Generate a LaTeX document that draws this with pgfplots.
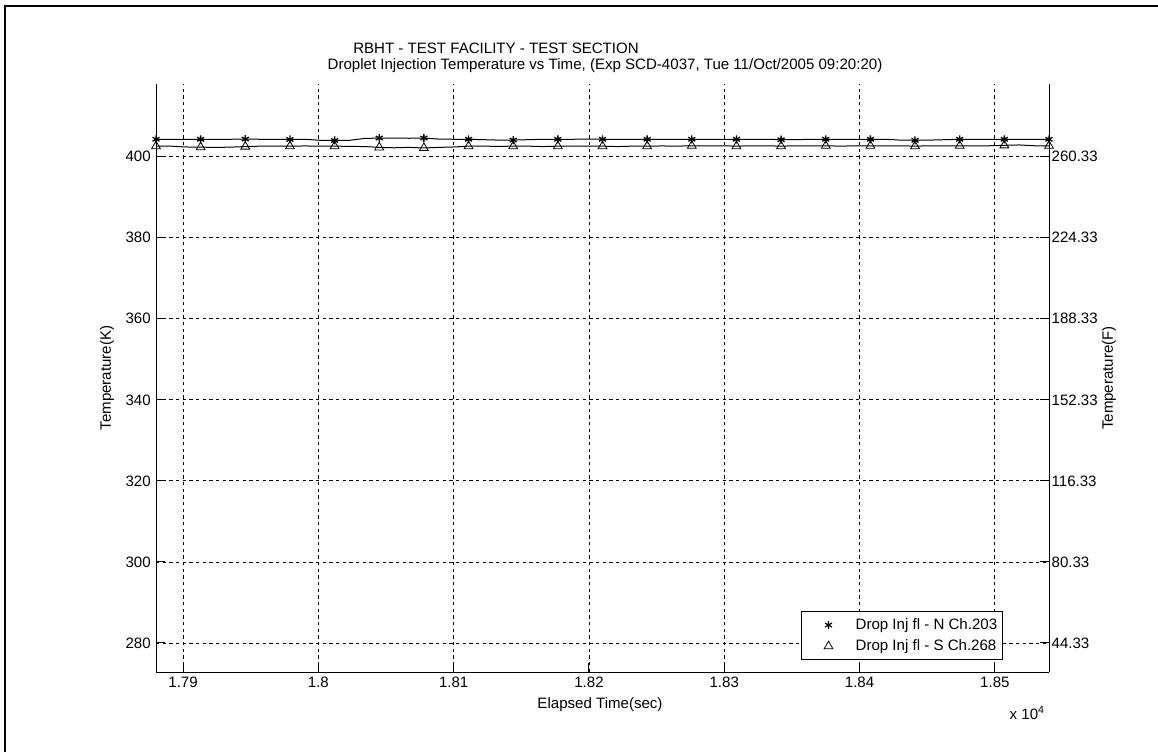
\documentclass[border=0pt]{standalone}
\usepackage{fontspec}
\setmainfont{Liberation Sans}
\usepackage{pgfplots}
\usepackage{pgfplotstable}
\pgfplotsset{compat=1.18}
\pgfplotsset{mylegimg/.style={legend image code/.code={\path (0cm,0cm) (1.25cm,0cm); \draw[##1] plot coordinates {(0.62cm,0cm)};}}}
\pgfplotstableread{
t n s
17880 404.30 402.60
17891 404.30 402.60
17902 404.25 402.40
17913 404.30 402.35
17924 404.30 402.30
17935 404.30 402.35
17946 404.35 402.50
17957 404.30 402.60
17968 404.30 402.60
17979 404.25 402.60
17990 404.30 402.65
18001 404.05 402.60
18012 404.00 402.60
18023 404.05 402.55
18034 404.50 402.50
18045 404.60 402.30
18056 404.60 402.20
18067 404.55 402.30
18078 404.60 402.15
18089 404.35 402.30
18100 404.30 402.40
18111 404.30 402.60
18122 404.20 402.60
18133 404.10 402.55
18144 404.10 402.60
18155 404.20 402.60
18166 404.30 402.50
18177 404.30 402.60
18188 404.30 402.60
18199 404.35 402.60
18210 404.30 402.60
18221 404.30 402.50
18232 404.25 402.60
18243 404.30 402.60
18254 404.30 402.65
18265 404.30 402.60
18276 404.30 402.70
18287 404.25 402.70
18298 404.30 402.70
18309 404.30 402.60
18320 404.30 402.70
18331 404.30 402.70
18342 404.20 402.60
18353 404.20 402.70
18364 404.30 402.70
18375 404.30 402.70
18386 404.30 402.60
18397 404.30 402.70
18408 404.30 402.70
18419 404.30 402.70
18430 404.10 402.70
18441 404.05 402.60
18452 404.10 402.70
18463 404.20 402.70
18474 404.30 402.70
18485 404.30 402.70
18496 404.30 402.70
18507 404.30 402.80
18518 404.30 402.90
18529 404.30 402.70
18540 404.30 402.70
}\datatable
\begin{document}
\fontsize{11.3}{13.5}\selectfont
\begin{tikzpicture}[x=0.75pt,y=0.75pt]
\path[use as bounding box] (0,0) rectangle (1158,751);
\draw[line width=1.6pt] (5,-2) -- (5,745) -- (1160,745);
\begin{axis}[
  at={(117pt,59.25pt)}, anchor=south west,
  scale only axis, width=669.75pt, height=441pt,
  xmin=17880, xmax=18540, ymin=272.84, ymax=417.94,
  scaled x ticks=false, scaled y ticks=false,
  axis x line*=bottom, axis y line*=left,
  axis line style={-, black, line width=0.75pt},
  tick align=inside, major tick length=6.75pt,
  tick style={black, line width=0.75pt},
  xtick={17900,18000,18100,18200,18300,18400,18500},
  xticklabels={1.79,1.8,1.81,1.82,1.83,1.84,1.85},
  ytick={280,300,320,340,360,380,400},
  yticklabels={280,300,320,340,360,380,400},
  grid=major,
  major grid style={black, line width=0.6pt, dash pattern=on 2.5pt off 2.5pt},
  ticklabel style={font=\fontsize{11.3}{13.5}\selectfont},
  legend style={at={(0.9485,0.0204)}, anchor=south east, draw=black, line width=0.75pt,
    font=\fontsize{11.3}{13.5}\selectfont, inner xsep=2pt, inner ysep=3pt,
    row sep=2pt},
  legend cell align=left,
]
\addlegendimage{only marks, mark=asterisk, mark size=3pt, black, line width=0.9pt, mylegimg}
\addlegendentry{Drop Inj fl - N Ch.203}
\addlegendimage{only marks, mark=triangle, mark size=3.8pt, black, line width=0.6pt, mylegimg}
\addlegendentry{Drop Inj fl - S Ch.268}
\addplot[black, line width=0.75pt, mark=asterisk, mark size=3pt, mark repeat=3, mark options={line width=1pt}, forget plot] table[x=t,y=n] {\datatable};
\addplot[black, line width=0.75pt, mark=triangle, mark size=3.8pt, mark repeat=3, mark options={line width=0.6pt}, forget plot] table[x=t,y=s] {\datatable};
\end{axis}
\begin{axis}[
  at={(117pt,59.25pt)}, anchor=south west,
  scale only axis, width=669.75pt, height=441pt,
  xmin=17880, xmax=18540, ymin=272.84, ymax=417.94,
  scaled x ticks=false, scaled y ticks=false,
  axis x line=none, axis y line*=right,
  axis line style={-, black, line width=0.75pt},
  tick align=inside, major tick length=6.75pt,
  tick style={black, line width=0.75pt},
  ytick={280,300,320,340,360,380,400},
  yticklabels={44.33,80.33,116.33,152.33,188.33,224.33,260.33},
  yticklabel style={xshift=-2pt},
  ticklabel style={font=\fontsize{11.3}{13.5}\selectfont},
]
\addplot[draw=none, forget plot] coordinates {(17900,300)};
\end{axis}
\node at (496,703) {RBHT - TEST FACILITY - TEST SECTION};
\node at (605,685) {Droplet Injection Temperature vs Time, (Exp SCD-4037, Tue 11/Oct/2005 09:20:20)};
\node at (600,46) {Elapsed Time(sec)};
\node[anchor=east] at (1050,38) {x 10\textsuperscript{4}};
\node[rotate=90] at (107,373) {Temperature(K)};
\node[rotate=90] at (1109,373) {Temperature(F)};
\end{tikzpicture}
\end{document}
